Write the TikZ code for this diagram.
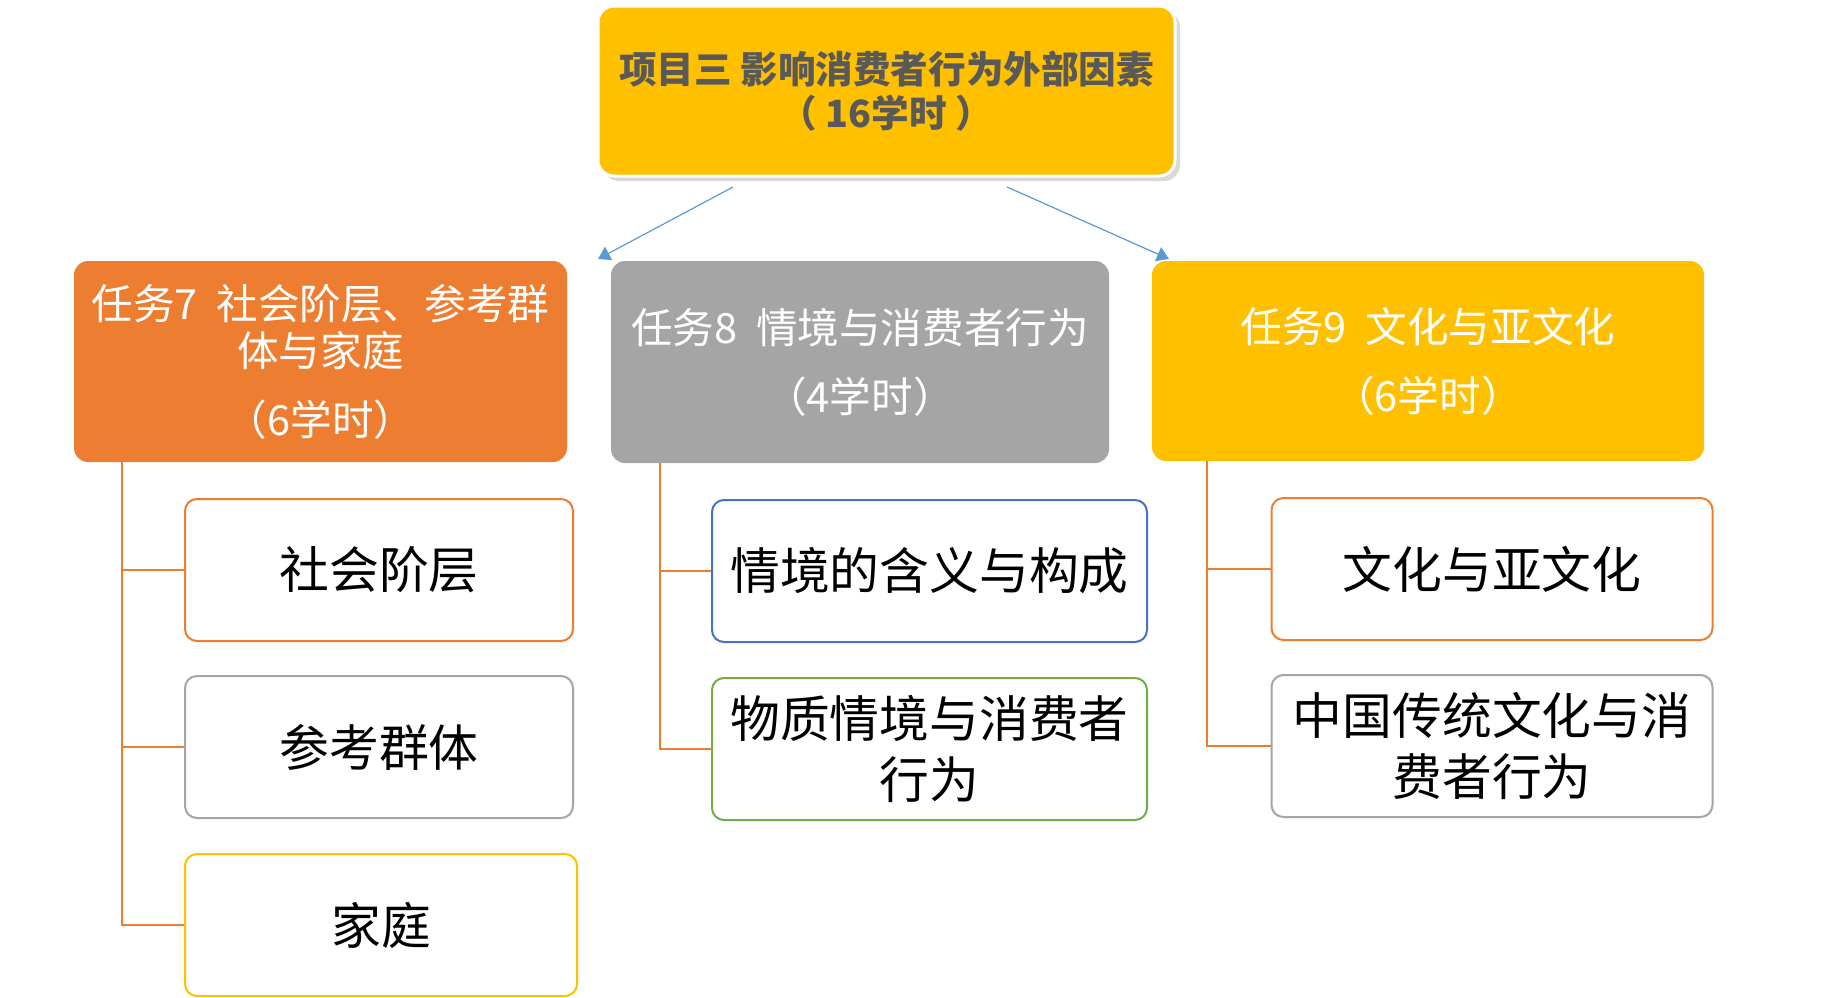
\documentclass[tikz,border=0pt]{standalone}
\usepackage{fontspec}
\setmainfont{Noto Sans CJK SC}
\usepackage{tikz}
\usetikzlibrary{arrows.meta,positioning,shadows}
\definecolor{amber}{HTML}{FFC000}
\definecolor{tangerine}{HTML}{ED7D31}
\definecolor{slate}{HTML}{A5A5A5}
\definecolor{azure}{HTML}{4472C4}
\definecolor{leaf}{HTML}{70AD47}
\definecolor{sky}{HTML}{5B9BD5}
\definecolor{ink}{HTML}{595959}

\begin{document}
\begin{tikzpicture}[x=0.5pt,y=-0.5pt,
title/.style={draw=white,line width=1.5pt,fill=amber,rounded corners=8pt,align=center,text=ink,minimum width=288.5pt,minimum height=85pt,font=\bfseries\fontsize{18.8}{22}\selectfont,drop shadow={shadow xshift=2.5pt,shadow yshift=-2.5pt,opacity=0.3}},
task/.style={rounded corners=7pt,align=center,text=white,minimum width=246.5pt,minimum height=100.5pt,font=\fontsize{20.8}{23.5}\selectfont},
item/.style={draw,line width=1pt,rounded corners=6pt,fill=white,align=center,minimum width=194pt,minimum height=71pt,font=\fontsize{24.9}{30.5}\selectfont},
tie/.style={tangerine,line width=1pt},
arr/.style={-{Triangle[length=6pt,width=7.5pt]},sky,line width=0.6pt}]
\useasboundingbox (0,0) rectangle (1836,997);
\node[title] (proj) at (886.5,91) {项目三 影响消费者行为外部因素\\（ 16学时 ）};
\node[task,fill=tangerine] (t7) at (320.5,361.5) {任务7\ \ 社会阶层、参考群\\体与家庭\\[11pt]（6学时）};
\node[task,fill=slate,minimum width=249pt,minimum height=101pt] (t8) at (860,362) {任务8\ \ 情境与消费者行为\\[11pt]（4学时）};
\node[task,fill=amber,minimum width=276pt,minimum height=100pt] (t9) at (1428,361) {任务9\ \ 文化与亚文化\\[11pt]（6学时）};
% sub items
\node[item,draw=tangerine] (c71) at (379,570) {社会阶层};
\node[item,draw=slate] (c72) at (379,747) {参考群体};
\node[item,draw=amber,minimum width=196pt] (c73) at (381,925) {家庭};
\node[item,draw=azure,minimum width=217.5pt] (c81) at (929.5,571) {情境的含义与构成};
\node[item,draw=leaf,minimum width=217.5pt] (c82) at (929.5,749) {物质情境与消费者\\行为};
\node[item,draw=tangerine,minimum width=220.5pt] (c91) at (1492,569) {文化与亚文化};
\node[item,draw=slate,minimum width=220.5pt] (c92) at (1492,746) {中国传统文化与消\\费者行为};
% arrows
\coordinate (aL) at (733,187); \coordinate (bL) at (598,259);
\coordinate (aR) at (1007,187); \coordinate (bR) at (1169,259);
\draw[arr] (aL)--(bL); \draw[arr] (aR)--(bR);
% ties
\coordinate (s7) at (122,462); \coordinate (s8) at (660,463); \coordinate (s9) at (1207,461);
\draw[tie] (s7) |- (c71.west); \draw[tie] (s7) |- (c72.west); \draw[tie] (s7) |- (c73.west);
\draw[tie] (s8) |- (c81.west); \draw[tie] (s8) |- (c82.west);
\draw[tie] (s9) |- (c91.west); \draw[tie] (s9) |- (c92.west);
\end{tikzpicture}
\end{document}
